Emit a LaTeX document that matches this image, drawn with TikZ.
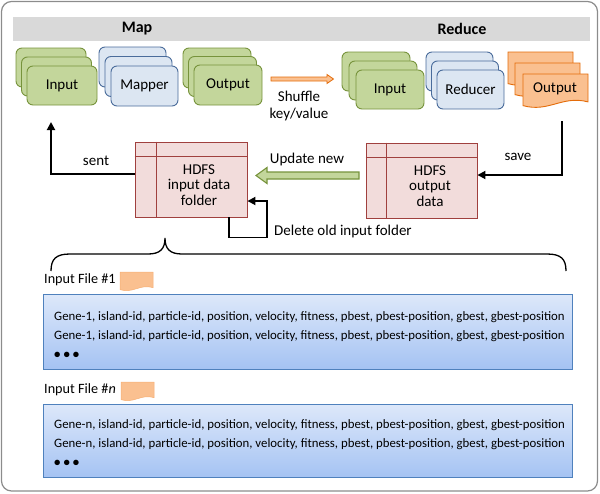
\documentclass[tikz,border=0pt]{standalone}
\usepackage{fontspec}
\setmainfont{Carlito}
\usetikzlibrary{arrows.meta}
\definecolor{gfill}{HTML}{C3D69B}
\definecolor{gdraw}{HTML}{77933C}
\definecolor{bfill}{HTML}{DCE6F2}
\definecolor{bdraw}{HTML}{4A6C9B}
\definecolor{ofill}{HTML}{FAC090}
\definecolor{odraw}{HTML}{E46C0A}
\definecolor{hfill}{HTML}{F2DCDB}
\definecolor{hdraw}{HTML}{A0403E}
\definecolor{band}{HTML}{D9D9D9}
\definecolor{frame}{HTML}{8C8C8C}
\definecolor{ftop}{HTML}{DDE8FA}
\definecolor{fbot}{HTML}{A5C3F3}
\definecolor{fdraw}{HTML}{4F81BD}
\newcommand\mydoc[5]{%
  \draw[#5] (#1,#2) -- ({#1+#3},#2) -- ({#1+#3},{#2+0.82*#4})
    .. controls ({#1+0.6*#3},{#2+0.62*#4}) and ({#1+0.4*#3},{#2+1.14*#4}) ..
    (#1,{#2+0.93*#4}) -- cycle;}
\begin{document}
\begin{tikzpicture}[x=1pt,y=-1pt,
  lbl/.style={font=\fontsize{15}{15.5}\selectfont, inner sep=0pt, align=center},
  flbl/.style={font=\fontsize{14.2}{15}\selectfont, inner sep=0pt, anchor=west},
  hd/.style={font=\bfseries\fontsize{16}{17}\selectfont, inner sep=0pt},
  gstack/.style={draw=gdraw, fill=gfill, line width=0.9pt, rounded corners=6pt, minimum width=#1, minimum height=39pt, inner sep=0pt, font=\fontsize{15}{16}\selectfont},
  bstack/.style={draw=bdraw, fill=bfill, line width=0.9pt, rounded corners=6pt, minimum width=#1, minimum height=39pt, inner sep=0pt, font=\fontsize{15}{16}\selectfont},
  hdfs/.style={draw=hdraw, fill=hfill, line width=0.9pt, minimum width=112pt, minimum height=75pt, inner sep=0pt},
  odoc/.style={draw=odraw, fill=ofill, line width=0.9pt},
  sdoc/.style={draw=ofill!80!odraw, fill=ofill, line width=0.5pt},
  fbox/.style={draw=fdraw, top color=ftop, bottom color=fbot, line width=1pt, minimum width=529pt, minimum height=75pt, inner sep=0pt},
  gene/.style={font=\fontsize{12.8}{19}\selectfont, inner sep=0pt, align=left, anchor=west},
  arr/.style={line width=1.8pt, -{Triangle[length=8pt,width=8pt]}},
]
\useasboundingbox (0,0) rectangle (600,493);
% frame
\draw[frame, line width=1.2pt, rounded corners=10pt] (1.5,1.5) rectangle (597.5,491);
% header band
\fill[band] (13,17) rectangle (590,41);
\node[hd] (map) at (137,29) {Map};
\node[hd] (reduce) at (462,29) {Reduce};

% Map input stack
\node[gstack=70pt] (mi3) at (51,67.5) {};
\node[gstack=70pt] (mi2) at (56.5,76.5) {};
\node[gstack=70pt] (mi1) at (62,85.5) {Input};
% Mapper stack
\node[bstack=67pt, minimum height=40pt] (mp3) at (132.5,67) {};
\node[bstack=67pt, minimum height=40pt] (mp2) at (138.5,76.5) {};
\node[bstack=67pt, minimum height=40pt] (mp1) at (144.5,86) {Mapper};
% Map output stack
\node[gstack=68pt, minimum height=40pt] (mo3) at (217,68) {};
\node[gstack=68pt, minimum height=40pt] (mo2) at (222.5,76.5) {};
\node[gstack=68pt, minimum height=40pt] (mo1) at (228,85) {Output};

% Shuffle arrow
\draw[odoc, line width=0.8pt] (271,77) -- (327,77) -- (327,74.5) -- (333.5,79) -- (327,83.5) -- (327,81) -- (271,81) -- cycle;
\node[lbl, font=\fontsize{15}{16.5}\selectfont] (shuffle) at (299,106) {Shuffle\\key/value};

% Reduce input stack
\node[gstack=68pt] (ri3) at (376,71.5) {};
\node[gstack=68pt] (ri2) at (383,80.5) {};
\node[gstack=68pt] (ri1) at (390,89.5) {Input};
% Reducer stack
\node[bstack=67pt] (rr3) at (459.5,71.5) {};
\node[bstack=67pt] (rr2) at (465,80.5) {};
\node[bstack=67pt] (rr1) at (470.5,89.5) {Reducer};
% Reduce output docs
\mydoc{508}{52}{65}{34}{odoc}
\mydoc{515}{63}{65}{34}{odoc}
\mydoc{523}{74}{65}{34}{odoc}
\node[lbl] (ro1) at (555,89) {Output};

% HDFS boxes
\node[hdfs] (hin) at (191,179.5) {};
\draw[hdraw, line width=0.9pt] ([xshift=22pt]hin.north west) -- ([xshift=22pt]hin.south west);
\draw[hdraw, line width=0.9pt] ([yshift=-15pt]hin.north west) -- ([yshift=-15pt]hin.north east);
\node[lbl] (hintxt) at (199,185) {HDFS\\input data\\folder};

\node[hdfs, minimum width=111pt] (hout) at (421.5,180.5) {};
\draw[hdraw, line width=0.9pt] ([xshift=21pt]hout.north west) -- ([xshift=21pt]hout.south west);
\draw[hdraw, line width=0.9pt] ([yshift=-15pt]hout.north west) -- ([yshift=-15pt]hout.north east);
\node[lbl] (houttxt) at (430,186) {HDFS\\output\\data};

% Update new arrow
\draw[draw=gdraw, fill=gfill, line width=1.1pt] (359,172) -- (267,172) -- (267,167.5) -- (256,175.5) -- (267,183.5) -- (267,179) -- (359,179) -- cycle;
\node[lbl] (upd) at (307,159) {Update new};

% sent
\coordinate (sentrow) at (0,174);
\coordinate (sentend) at (51,122);
\draw[arr] (hin.west |- sentrow) -| (sentend);
\node[lbl] (sent) at (96,161) {sent};

% save
\coordinate (savestart) at (562,121);
\coordinate (saverow) at (0,175);
\draw[arr] (savestart) |- (hout.east |- saverow);
\node[lbl] (save) at (518,157) {save};

% delete
\coordinate (delx) at (229,0);
\coordinate (dely) at (0,201);
\draw[arr] (hin.south -| delx) -- ++(0,20) -| (267,201) -- (hin.east |- dely);
\node[lbl, anchor=west] (del) at (274,231) {Delete old input folder};

% brace
\draw[line width=1.3pt] (51,271) .. controls (51,259) and (56,254) .. (70,254) -- (148,254)
  .. controls (160,254) and (165,249) .. (165,238)
  .. controls (165,249) and (170,254) .. (182,254) -- (547,254)
  .. controls (561,254) and (566,259) .. (566,271);

% file 1
\node[flbl] (f1lab) at (44,280) {Input File \#1};
\mydoc{120}{272}{33}{19}{sdoc}
\node[fbox] (f1) at (307.5,331.5) {};
\node[gene] (f1txt) at (54,335) {Gene-1, island-id, particle-id, position, velocity, fitness, pbest, pbest-position, gbest, gbest-position\\
Gene-1, island-id, particle-id, position, velocity, fitness, pbest, pbest-position, gbest, gbest-position\\
\textbf{\textbullet\hspace{3pt}\textbullet\hspace{3pt}\textbullet}};

% file n
\node[flbl] (fnlab) at (44,390) {Input File \#\textit{n}};
\mydoc{121}{382}{33}{19}{sdoc}
\node[fbox, minimum height=73pt] (fn) at (307.5,440.5) {};
\node[gene] (fntxt) at (54,443) {Gene-n, island-id, particle-id, position, velocity, fitness, pbest, pbest-position, gbest, gbest-position\\
Gene-n, island-id, particle-id, position, velocity, fitness, pbest, pbest-position, gbest, gbest-position\\
\textbf{\textbullet\hspace{3pt}\textbullet\hspace{3pt}\textbullet}};
\end{tikzpicture}
\end{document}
